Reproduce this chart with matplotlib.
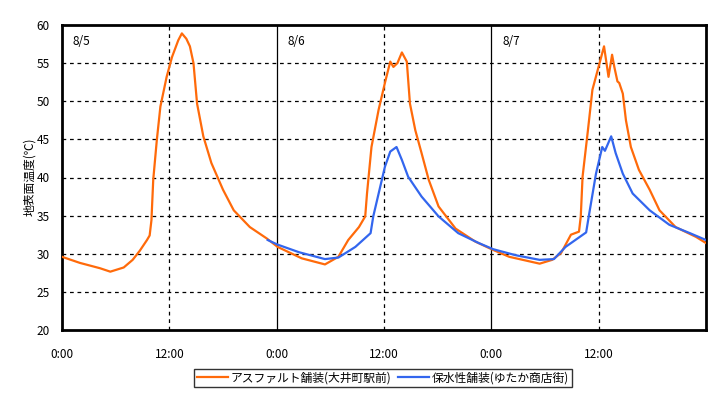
import matplotlib
matplotlib.use("Agg")
import matplotlib.pyplot as plt

plt.rcParams['font.family'] = ['Noto Sans CJK JP', 'DejaVu Sans']

# Data (hours since 8/5 0:00, surface temperature in deg C)
asphalt_hours = [0, 2, 4.25, 5.4, 6.9, 7.9, 8.7, 9.5, 9.8, 10.0, 10.2, 10.6, 11.0, 11.7, 12.3,
                 13.0, 13.4, 13.9, 14.3, 14.7, 15.1, 15.8, 16.7, 18.0, 19.2, 21.0, 22.9, 24.1,
                 26.8, 29.4, 30.9, 32.0, 33.2, 33.9, 34.1, 34.6, 35.4, 36.1, 36.7, 37.05, 37.5,
                 38.0, 38.55, 38.9, 39.5, 40.2, 41.0, 42.1, 44.0, 46.2, 48.2, 50.0, 53.4, 54.8,
                 55.8, 56.9, 57.8, 58.0, 58.2, 58.8, 59.3, 60.1, 60.6, 61.1, 61.5, 61.75, 62.1,
                 62.3, 62.7, 63.05, 63.6, 64.5, 65.7, 66.8, 68.6, 70.9, 72]
asphalt_temp = [29.6, 28.8, 28.1, 27.65, 28.2, 29.2, 30.4, 31.8, 32.4, 34.4, 39.7, 44.9, 49.3,
                53.2, 55.8, 58.0, 58.9, 58.2, 57.2, 55.0, 49.7, 45.4, 41.9, 38.4, 35.7, 33.5,
                32.0, 30.9, 29.4, 28.6, 29.6, 31.8, 33.5, 34.9, 37.9, 44.0, 48.9, 52.4, 55.2,
                54.5, 55.0, 56.4, 55.2, 49.7, 46.2, 43.2, 39.7, 36.2, 33.3, 31.6, 30.5, 29.6,
                28.7, 29.2, 30.1, 32.5, 32.9, 34.9, 40.1, 46.2, 51.5, 55.0, 57.2, 53.2, 56.1,
                54.5, 52.6, 52.4, 51.0, 47.5, 44.0, 41.0, 38.4, 35.7, 33.5, 32.2, 31.4]

porous_hours = [23.0, 24.1, 26.5, 29.4, 30.9, 32.8, 34.5, 34.8, 35.4, 36.1, 36.7, 37.4, 38.0,
                38.7, 40.2, 42.1, 44.3, 46.6, 48.2, 50.75, 53.4, 55.0, 56.3, 58.6, 58.95, 59.7,
                60.4, 60.7, 61.4, 61.9, 62.7, 63.8, 65.7, 67.9, 70.2, 72]
porous_temp = [31.8, 31.2, 30.2, 29.3, 29.5, 30.9, 32.7, 34.9, 37.9, 41.4, 43.4, 44.0, 42.3,
               40.1, 37.5, 34.9, 32.7, 31.4, 30.6, 29.8, 29.2, 29.3, 30.9, 32.8, 35.3, 40.5,
               44.0, 43.5, 45.4, 43.2, 40.5, 37.9, 35.7, 33.8, 32.7, 31.8]

series_labels = ['アスファルト舗装(大井町駅前)', '保水性舗装(ゆたか商店街)']
day_labels = ['8/5', '8/6', '8/7']
xtick_hours = [0, 12, 24, 36, 48, 60]
xtick_labels = ['0:00', '12:00', '0:00', '12:00', '0:00', '12:00']
yticks = [20, 25, 30, 35, 40, 45, 50, 55, 60]
ylabel = '地表面温度(℃)'

fig = plt.figure(figsize=(7.22, 3.99), dpi=100)
ax = fig.add_axes([62/722, 1-330/399, (706-62)/722, (330-25)/399])

# grid
for y in yticks[1:-1]:
    ax.axhline(y, color='black', lw=0.9, ls=(0, (3, 3)), zorder=1)
for h in [12, 36, 60]:
    ax.axvline(h, color='black', lw=0.9, ls=(0, (3, 3)), zorder=1)
for h in [24, 48]:
    ax.axvline(h, color='black', lw=0.9, zorder=1)

ax.plot(asphalt_hours, asphalt_temp, color='#FF6A0A', lw=1.6, label=series_labels[0], zorder=3)
ax.plot(porous_hours, porous_temp, color='#3366EE', lw=1.6, label=series_labels[1], zorder=3)

ax.set_xlim(0, 72)
ax.set_ylim(20, 60)
ax.set_yticks(yticks)
ax.set_xticks(xtick_hours)
ax.set_xticklabels(xtick_labels)
ax.tick_params(axis='both', length=0, labelsize=8.5, colors='black')
ax.tick_params(axis='x', pad=13)
ax.tick_params(axis='y', pad=9)
for s in ax.spines.values():
    s.set_linewidth(2)
    s.set_color('black')

for i, d in enumerate(day_labels):
    ax.text(i*24 + 1.2, 57.8, d, fontsize=8.5, va='center', ha='left')

fig.text(30/722, 1-177/399, ylabel, rotation=90, va='center', ha='center', fontsize=8.5)

leg = fig.legend(loc='center', bbox_to_anchor=(383/722, 1-378/399), ncol=2, fontsize=8.5,
                 frameon=True, fancybox=False, edgecolor='black', handlelength=2.6,
                 handletextpad=0.2, columnspacing=0.6, borderpad=0.25, borderaxespad=0)
leg.get_frame().set_linewidth(1.0)

fig.savefig('out.png', dpi=100)
